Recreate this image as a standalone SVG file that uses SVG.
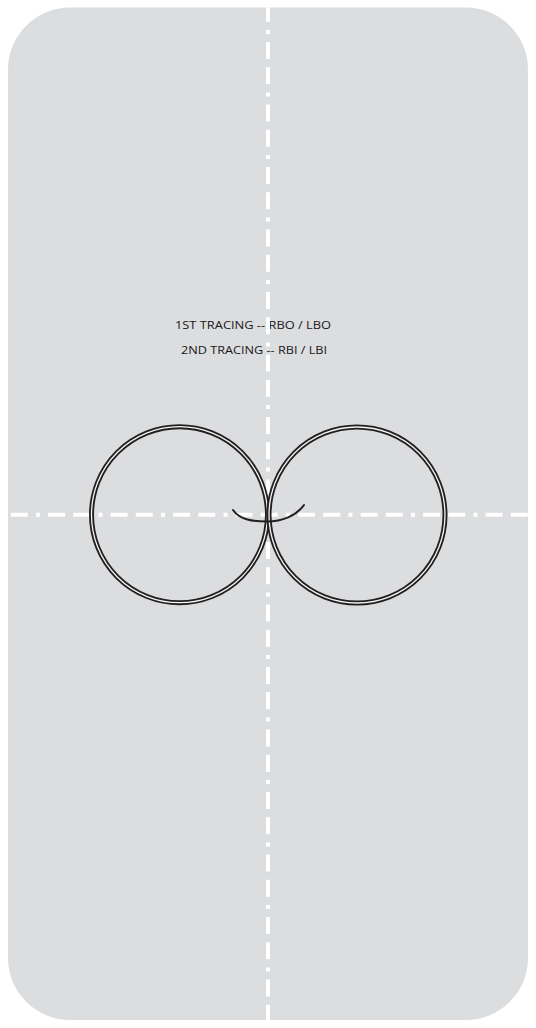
<svg xmlns="http://www.w3.org/2000/svg" width="536" height="1028" viewBox="0 0 536 1028">
  <defs>
    <clipPath id="board">
      <rect x="8" y="7.5" width="520" height="1012.5" rx="62" ry="62"/>
    </clipPath>
    <style>
      .axis { stroke: #ffffff; stroke-width: 4; fill: none; stroke-dasharray: 17 8.2 17 8.2 4 8.1; }
      .ring { fill: none; stroke: #231f20; stroke-width: 5; }
      .ring-gap { fill: none; stroke: #f4f4f4; stroke-width: 1.3; }
      .label { font-family: "Open Sans", "Liberation Sans", sans-serif; font-size: 11px; fill: #1a1718; }
      .tail { fill: none; stroke: #231f20; stroke-width: 2; stroke-linecap: round; }
    </style>
  </defs>
  <rect id="board-bg" x="8" y="7.5" width="520" height="1012.5" rx="62" ry="62" fill="#dcdddf"/>
  <g id="labels">
    <text class="label" x="175" y="329" textLength="156" lengthAdjust="spacingAndGlyphs">1ST TRACING -- RBO / LBO</text>
    <text class="label" x="181" y="354" textLength="146" lengthAdjust="spacingAndGlyphs">2ND TRACING -- RBI / LBI</text>
  </g>
  <g id="axes" clip-path="url(#board)">
    <line class="axis" x1="268" y1="-20.4" x2="268" y2="1040"/>
    <line class="axis" x1="-14.4" y1="514.7" x2="560" y2="514.7"/>
  </g>
  <g id="left-circle">
    <circle class="ring" cx="179.5" cy="514.7" r="88"/>
    <circle class="ring-gap" cx="179.5" cy="514.7" r="88"/>
  </g>
  <g id="right-circle">
    <circle class="ring" cx="357" cy="515" r="88"/>
    <circle class="ring-gap" cx="357" cy="515" r="88"/>
  </g>
  <g id="connectors">
    <path class="tail" d="M233,510 C240,520 253,521.5 267,521.5 C282,521.5 296,516 304,505"/>
  </g>
</svg>
